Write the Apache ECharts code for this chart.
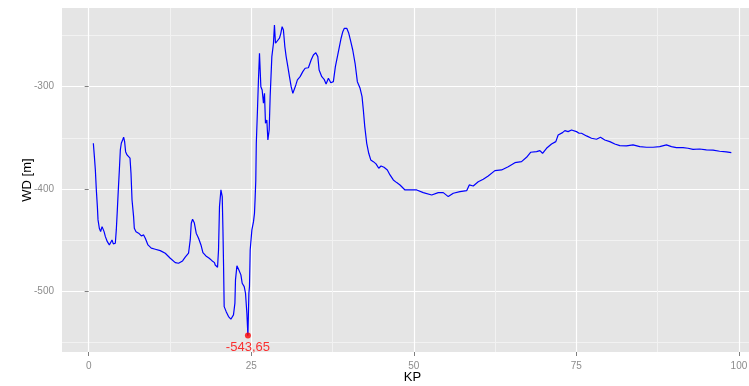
<!DOCTYPE html>
<html>
<head>
<meta charset="utf-8">
<script src="https://cdn.jsdelivr.net/npm/echarts@6/dist/echarts.min.js"></script>
<style>
html,body{margin:0;padding:0;background:#fff;}
#chart{width:749px;height:386px;}
</style>
</head>
<body>
<div id="chart"></div>
<script>
// ---- data ----
const kp = [0.72,0.88,1.03,1.18,1.34,1.44,1.64,1.84,2.06,2.21,2.37,2.57,2.87,3.18,3.38,3.59,3.79,4.10,4.25,4.41,4.56,4.72,4.87,5.02,5.22,5.38,5.53,5.68,5.90,6.14,6.36,6.51,6.67,6.91,7.02,7.28,7.68,8.10,8.45,8.71,9.12,9.63,10.25,11.01,11.78,12.55,13.32,13.82,14.44,14.85,15.36,15.62,15.78,15.98,16.24,16.54,16.90,17.27,17.57,18.03,18.54,18.96,19.35,19.46,19.82,19.97,20.12,20.34,20.54,20.65,20.74,20.84,21.15,21.51,21.87,22.27,22.49,22.58,22.80,23.10,23.41,23.61,23.92,24.12,24.33,24.49,24.64,24.73,24.84,25.10,25.35,25.50,25.61,25.70,25.78,25.96,26.11,26.27,26.48,26.68,26.88,27.04,27.19,27.40,27.56,27.76,27.91,28.17,28.42,28.57,28.73,29.03,29.34,29.55,29.75,29.95,30.17,30.37,30.63,30.88,31.14,31.40,31.60,31.86,32.10,32.52,32.93,33.29,33.79,34.21,34.56,34.93,35.24,35.44,35.85,36.21,36.51,36.87,37.24,37.63,37.94,38.25,38.56,38.82,39.08,39.32,39.69,40.00,40.31,40.61,40.97,41.32,41.74,42.04,42.24,42.46,42.76,43.07,43.38,43.78,44.19,44.61,44.96,45.42,45.93,46.34,46.85,47.37,47.88,48.65,50.45,51.46,52.75,53.76,54.53,55.30,56.07,57.10,58.13,58.53,59.14,59.91,60.68,61.44,62.47,63.50,64.52,65.55,66.57,67.34,67.96,68.88,69.39,69.80,70.41,71.18,71.84,72.20,72.87,73.23,73.73,74.25,74.50,75.02,75.42,75.79,76.56,77.33,78.09,78.71,79.37,80.14,80.91,81.68,82.70,83.72,84.75,85.78,86.79,87.82,88.85,89.62,90.38,91.40,92.17,92.94,93.96,94.99,96.01,97.04,98.06,98.83];
const wd = [-355.4,-368.5,-381.5,-401,-417.4,-430.4,-438.6,-441.9,-437,-435.3,-441.9,-446.8,-451.7,-454.9,-456.6,-450,-453.9,-453.2,-440.2,-420.6,-401,-381.5,-361.9,-355.4,-352.2,-349.5,-353.8,-363.6,-366.8,-368.5,-370,-384.7,-410.9,-427.2,-438.6,-441.9,-443.4,-446.1,-445.1,-448.3,-454.9,-458.1,-459.1,-460.5,-463,-467.9,-472.2,-472.8,-470.6,-466.9,-463,-450,-433.7,-429.8,-433.1,-443.4,-448.3,-454.9,-462.4,-465.7,-467.9,-470.3,-472.2,-474.5,-476.7,-459.8,-417.4,-401,-407.6,-440.2,-472.8,-515.3,-520.2,-525,-527.6,-523.4,-511.9,-489.1,-475.4,-479.4,-484.2,-492.4,-495.7,-502.2,-521.7,-543.65,-502.2,-495.7,-459.8,-440.2,-432.1,-423.9,-407.6,-392,-355.4,-322.8,-293.4,-267.3,-300,-303.2,-316.2,-306.5,-335.8,-332.6,-352.2,-342.4,-309.8,-270.6,-257.5,-239.6,-257.5,-256,-252.6,-247.8,-241.3,-244.5,-260.9,-270.6,-280.4,-290.2,-300,-306.5,-308.1,-298.3,-293.4,-290.2,-285.3,-282,-281.5,-273.9,-269,-266.7,-270.6,-283.7,-290.2,-292.8,-297.4,-291.8,-296.1,-295.1,-280.4,-270.6,-260.9,-252.6,-246.2,-242.9,-242.9,-247.8,-256,-264.1,-277.1,-295.1,-301.6,-309.8,-322.8,-339.1,-355.4,-365.2,-371.7,-373.4,-375.6,-379.8,-377.6,-378.9,-381.5,-386.4,-391.3,-393.9,-396.2,-401.1,-401.1,-403.7,-406,-403.7,-403.7,-407.6,-404.3,-402.7,-401.8,-396.2,-397.2,-393,-390.6,-387.4,-382.2,-381.5,-378.3,-374.4,-373.4,-369.1,-364.2,-363.6,-362.6,-365.2,-360.3,-356.1,-353.8,-347.3,-345,-343,-344,-342.4,-344,-344,-345.6,-345.6,-348.2,-350.5,-351.5,-349.5,-352.2,-353.8,-356.1,-357.7,-358,-357,-358.7,-359.3,-359.3,-358.7,-357,-358.7,-359.7,-359.7,-360.3,-361.3,-361,-361.9,-362.2,-363.2,-363.9,-364.6];
const minKP = 24.49;
const minWD = -543.65;
const xMajorTicks = [0, 25, 50, 75, 100];
const xMinorTicks = [12.5, 37.5, 62.5, 87.5];
const yMajorTicks = [-500, -400, -300];
const yMinorTicks = [-550, -450, -350, -250];
const xTitle = 'KP';
const yTitle = 'WD [m]';

// ---- chart ----
const FONT = '"Liberation Sans", Arial, sans-serif';
const xMin = -4.1, xMax = 103.7, yMin = -559.7, yMax = -223.0;
const lineData = kp.map((k, i) => [k, wd[i]]);

const chart = echarts.init(document.getElementById('chart'), null, {renderer: 'canvas'});
chart.setOption({
  animation: false,
  backgroundColor: '#ffffff',
  textStyle: {fontFamily: FONT},
  grid: {
    left: 62, top: 8, right: -14, bottom: 34,
    show: true, backgroundColor: '#E5E5E5', borderWidth: 0,
    containLabel: false, outerBoundsMode: 'none'
  },
  xAxis: [
    {
      type: 'value', min: xMin, max: xMax, position: 'bottom',
      axisLine: {show: false}, axisLabel: {show: false},
      axisTick: {show: false, customValues: xMinorTicks},
      splitLine: {show: true, lineStyle: {color: '#F2F2F2', width: 1}}
    },
    {
      type: 'value', min: xMin, max: xMax, position: 'bottom',
      name: xTitle, nameLocation: 'middle', nameGap: 19, nameMoveOverlap: false,
      nameTextStyle: {color: '#000', fontSize: 13, fontFamily: FONT},
      axisLine: {show: false},
      axisTick: {show: true, length: 4, customValues: xMajorTicks, lineStyle: {color: '#7F7F7F', width: 1}},
      axisLabel: {show: true, customValues: xMajorTicks, color: '#8C8C8C', fontSize: 10, margin: 9, fontFamily: FONT},
      splitLine: {show: true, lineStyle: {color: '#FFFFFF', width: 1.2}}
    }
  ],
  yAxis: [
    {
      type: 'value', min: yMin, max: yMax, position: 'left',
      axisLine: {show: false}, axisLabel: {show: false},
      axisTick: {show: false, customValues: yMinorTicks},
      splitLine: {show: true, lineStyle: {color: '#F2F2F2', width: 1}}
    },
    {
      type: 'value', min: yMin, max: yMax, position: 'left',
      name: yTitle, nameLocation: 'middle', nameGap: 28, nameMoveOverlap: false,
      nameTextStyle: {color: '#000', fontSize: 13, fontFamily: FONT},
      axisLine: {show: false},
      axisTick: {show: true, length: 4, customValues: yMajorTicks, lineStyle: {color: '#7F7F7F', width: 1}},
      axisLabel: {show: true, customValues: yMajorTicks, color: '#8C8C8C', fontSize: 10, margin: 8, fontFamily: FONT},
      splitLine: {show: true, lineStyle: {color: '#FFFFFF', width: 1.2}}
    }
  ],
  series: [
    {
      type: 'line', xAxisIndex: 1, yAxisIndex: 1,
      data: lineData, showSymbol: false, symbol: 'none',
      lineStyle: {color: '#0000FF', width: 1.2},
      silent: true, z: 3
    },
    {
      type: 'scatter', xAxisIndex: 1, yAxisIndex: 1,
      data: [[minKP, minWD]], symbolSize: 6,
      itemStyle: {color: '#FF0000'},
      label: {
        show: true, position: 'bottom', distance: 2,
        color: '#FF0000', fontSize: 13, fontFamily: FONT,
        formatter: () => String(minWD).replace('.', ',')
      },
      silent: true, z: 4
    }
  ]
});
</script>
</body>
</html>
